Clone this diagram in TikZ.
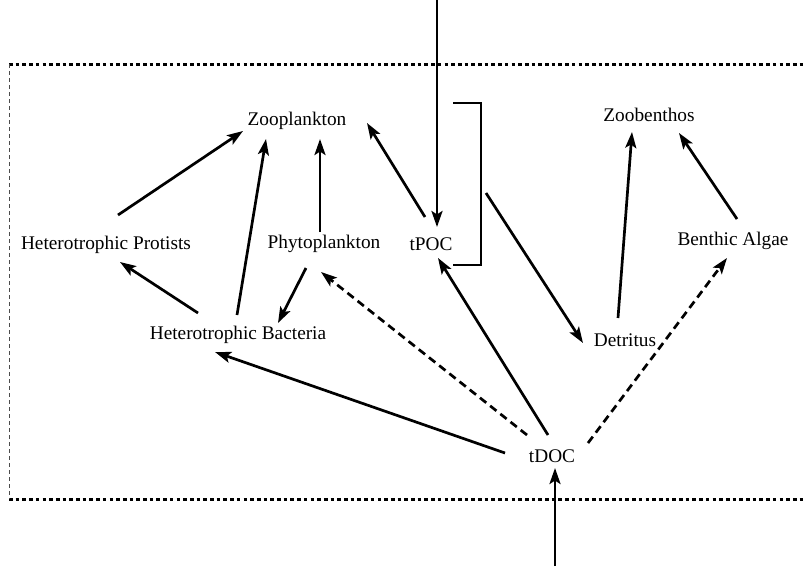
\documentclass[tikz,border=0pt]{standalone}
\usepackage{fontspec}
\setmainfont{Liberation Serif}
\usetikzlibrary{arrows.meta,calc}
\tikzset{
  lbl/.style={inner sep=0pt, font=\fontsize{19.3}{22}\selectfont},
  arr/.style={line width=2.7pt, -{Stealth[length=16pt,width=11pt,inset=3.5pt]}},
  darr/.style={arr, dash pattern=on 8pt off 5pt},
  frameline/.style={line width=3pt, dash pattern=on 3.6pt off 3.1pt},
  sideline/.style={line width=0.9pt, dash pattern=on 4pt off 3pt, black!70},
  brk/.style={line width=2.7pt}
}
\begin{document}
\begin{tikzpicture}[x=1pt,y=-1pt]
\useasboundingbox (0,0) rectangle (805,566);
% frame
\coordinate (ftl) at (9,64);
\coordinate (ftr) at (805,64);
\coordinate (fbl) at (9,499);
\coordinate (fbr) at (805,499);
\draw[frameline] (ftl) -- (ftr);
\draw[frameline] (fbl) -- (fbr);
\draw[sideline] (ftl) -- (fbl);
% nodes
\node[lbl] (zoo) at (297,121) {Zooplankton};
\node[lbl] (zb) at (649,115) {Zoobenthos};
\node[lbl] (hp) at (106,245) {Heterotrophic Protists};
\node[lbl] (phy) at (324,244) {Phytoplankton};
\node[lbl] (tpoc) at (431,244) {tPOC};
\node[lbl] (ba) at (733,241) {Benthic Algae};
\node[lbl] (hb) at (238,335) {Heterotrophic Bacteria};
\node[lbl] (det) at (625,340) {Detritus};
\node[lbl] (tdoc) at (552,456) {tDOC};
% bracket
\coordinate (b1) at (453,103);
\coordinate (b2) at (481,103);
\coordinate (b3) at (481,265);
\coordinate (b4) at (453,265);
\coordinate (bm) at (486,193);
\draw[brk] (b1) -- (b2) -- (b3) -- (b4);
% external inputs
\coordinate (topin) at (437,0);
\coordinate (botin) at (555,566);
\draw[arr] (topin) -- ($(tpoc)+(6,-17)$);
\draw[arr] (botin) -- ($(tdoc)+(3,12)$);
% arrows
\draw[arr] ($(hp)+(12,-30)$) -- ($(zoo)+(-54,10)$);
\draw[arr] ($(hb)+(-1,-20)$) -- ($(zoo)+(-31,18)$);
\draw[arr] ($(phy)+(-4,-12)$) -- ($(zoo)+(23,18)$);
\draw[arr] ($(tpoc)+(-6,-27)$) -- ($(zoo)+(70,2)$);
\draw[arr] ($(phy)+(-18,24)$) -- ($(hb)+(40,-12)$);
\draw[arr] ($(hb)+(-40,-22)$) -- ($(hp)+(14,17)$);
\draw[arr] ($(tdoc)+(-47,-3)$) -- ($(hb)+(-23,17)$);
\draw[darr] ($(tdoc)+(-25,-21)$) -- ($(phy)+(-3,28)$);
\draw[arr] ($(tdoc)+(-4,-21)$) -- ($(tpoc)+(7,14)$);
\draw[darr] ($(tdoc)+(36,-13)$) -- ($(ba)+(-6,17)$);
\draw[arr] ($(det)+(-7,-22)$) -- ($(zb)+(-17,17)$);
\draw[arr] ($(ba)+(4,-22)$) -- ($(zb)+(30,18)$);
\draw[arr] (bm) -- ($(det)+(-42,3)$);
\end{tikzpicture}
\end{document}
